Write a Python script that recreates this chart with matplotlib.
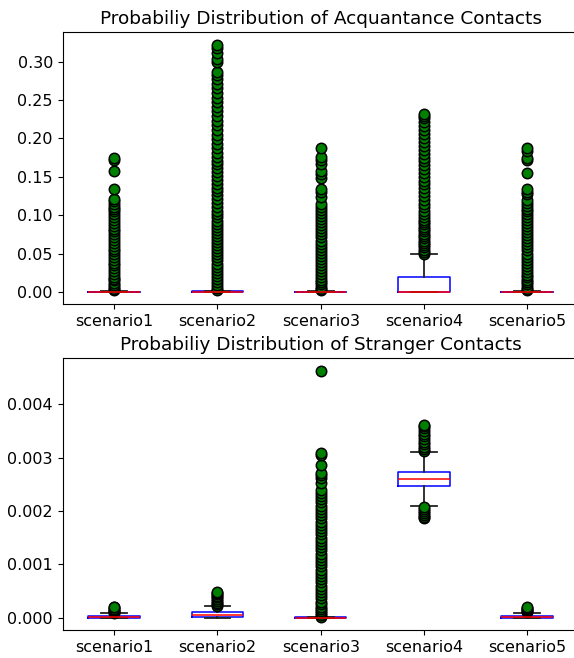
import matplotlib
matplotlib.use("Agg")
import matplotlib.pyplot as plt

labels = ["scenario1", "scenario2", "scenario3", "scenario4", "scenario5"]

# acquaintance contacts: box statistics
acq_q1 = [0.0, 0.0, 0.0, 0.0, 0.0]
acq_med = [0.0, 0.0, 0.0, 0.0, 0.0]
acq_q3 = [0.0004, 0.0006, 0.0004, 0.020, 0.0005]
acq_lo = [0.0, 0.0, 0.0, 0.0, 0.0]
acq_hi = [0.001, 0.0015, 0.001, 0.050, 0.001]
acq_fliers = [
    [0.002, 0.004, 0.006, 0.009, 0.012, 0.015, 0.017, 0.020, 0.024, 0.027,
     0.031, 0.035, 0.038, 0.042, 0.046, 0.049, 0.053, 0.056, 0.060, 0.064,
     0.068, 0.072, 0.076, 0.079, 0.082, 0.086, 0.090, 0.094, 0.098, 0.101,
     0.105, 0.108, 0.111, 0.115, 0.118, 0.121, 0.134, 0.157, 0.172, 0.175],
    [0.002, 0.005, 0.009, 0.013, 0.017, 0.021, 0.025, 0.029, 0.033, 0.037,
     0.041, 0.045, 0.049, 0.053, 0.057, 0.061, 0.065, 0.069, 0.073, 0.077,
     0.081, 0.085, 0.089, 0.093, 0.097, 0.101, 0.106, 0.111, 0.116, 0.121,
     0.126, 0.131, 0.136, 0.141, 0.146, 0.151, 0.156, 0.161, 0.166, 0.171,
     0.176, 0.181, 0.187, 0.193, 0.199, 0.205, 0.211, 0.217, 0.223, 0.229,
     0.235, 0.241, 0.247, 0.253, 0.259, 0.265, 0.271, 0.277, 0.283, 0.287,
     0.300, 0.303, 0.311, 0.318, 0.322],
    [0.002, 0.004, 0.007, 0.010, 0.013, 0.016, 0.019, 0.023, 0.027, 0.031,
     0.035, 0.039, 0.043, 0.047, 0.051, 0.055, 0.059, 0.063, 0.067, 0.071,
     0.075, 0.079, 0.083, 0.087, 0.091, 0.095, 0.099, 0.103, 0.107, 0.111,
     0.115, 0.124, 0.130, 0.134, 0.148, 0.153, 0.157, 0.167, 0.172, 0.176,
     0.187],
    [0.050, 0.052, 0.055, 0.058, 0.061, 0.064, 0.067, 0.070, 0.073, 0.076,
     0.079, 0.082, 0.085, 0.088, 0.091, 0.094, 0.097, 0.101, 0.105, 0.110,
     0.115, 0.120, 0.125, 0.130, 0.135, 0.140, 0.145, 0.150, 0.155, 0.160,
     0.165, 0.170, 0.175, 0.180, 0.185, 0.190, 0.195, 0.200, 0.206, 0.211,
     0.216, 0.221, 0.226, 0.229, 0.232],
    [0.002, 0.004, 0.007, 0.010, 0.013, 0.016, 0.019, 0.022, 0.026, 0.030,
     0.034, 0.038, 0.042, 0.046, 0.050, 0.054, 0.058, 0.062, 0.066, 0.070,
     0.074, 0.078, 0.082, 0.086, 0.090, 0.094, 0.098, 0.102, 0.105, 0.108,
     0.112, 0.116, 0.120, 0.127, 0.130, 0.134, 0.155, 0.172, 0.175, 0.183,
     0.187],
]

# stranger contacts: box statistics
str_q1 = [0.0, 0.000008, 0.0, 0.002476, 0.0]
str_med = [0.00001, 0.00004, 0.0, 0.002594, 0.00001]
str_q3 = [0.00003, 0.0001, 0.000005, 0.002731, 0.00003]
str_lo = [0.0, 0.0, 0.0, 0.002088, 0.0]
str_hi = [0.00008, 0.00021, 0.00001, 0.003114, 0.00009]
str_fliers = [
    [0.00009, 0.00011, 0.00013, 0.00015, 0.00017, 0.00019, 0.0002],
    [0.00022, 0.00025, 0.00028, 0.00032, 0.00035, 0.00038, 0.00041,
     0.00044, 0.00046, 0.00048],
    [0.00002, 0.00005, 0.00008, 0.00012, 0.00016, 0.0002, 0.00025, 0.0003,
     0.00036, 0.00042, 0.00048, 0.00054, 0.0006, 0.00066, 0.00072, 0.00078,
     0.00084, 0.0009, 0.00096, 0.00102, 0.00108, 0.00114, 0.0012, 0.00126,
     0.00132, 0.00138, 0.00144, 0.0015, 0.00156, 0.00162, 0.00168, 0.00174,
     0.0018, 0.00186, 0.00192, 0.00198, 0.00204, 0.0021, 0.00216, 0.00222,
     0.00228, 0.00234, 0.0024, 0.00252, 0.00262, 0.00268, 0.00272, 0.00286,
     0.00305, 0.00308, 0.00463],
    [0.00186, 0.00188, 0.00192, 0.00196, 0.002, 0.00204, 0.00207,
     0.00313, 0.00316, 0.0032, 0.00325, 0.0033, 0.00335, 0.0034, 0.00345,
     0.0035, 0.00355, 0.0036, 0.00362],
    [0.0001, 0.00012, 0.00014, 0.00016, 0.00018, 0.00019],
]


def make_stats(q1, med, q3, lo, hi, fliers):
    return [dict(label=labels[i], q1=q1[i], med=med[i], q3=q3[i],
                 whislo=lo[i], whishi=hi[i], fliers=fliers[i])
            for i in range(len(labels))]


def draw(ax, stats, title):
    ax.bxp(stats, widths=0.5,
           boxprops=dict(color="blue", linewidth=1.1),
           medianprops=dict(color="red", linewidth=1.1),
           whiskerprops=dict(color="#222222", linewidth=1.3),
           capprops=dict(color="#222222", linewidth=1.3),
           flierprops=dict(marker="o", markerfacecolor="green",
                           markeredgecolor="black", markersize=7.5,
                           markeredgewidth=1.1))
    ax.set_title(title, fontsize=13.3)
    ax.tick_params(labelsize=11.5)
    ax.set_xlim(0.5, 5.5)


fig = plt.figure(figsize=(5.74, 6.58), dpi=100)
ax1 = fig.add_axes([0.1092, 0.5375, 0.899, 0.4134])
ax2 = fig.add_axes([0.1092, 0.0426, 0.899, 0.4129])

draw(ax1, make_stats(acq_q1, acq_med, acq_q3, acq_lo, acq_hi, acq_fliers),
     "Probabiliy Distribution of Acquantance Contacts")
draw(ax2, make_stats(str_q1, str_med, str_q3, str_lo, str_hi, str_fliers),
     "Probabiliy Distribution of Stranger Contacts")

fig.savefig("out.png", dpi=100)
